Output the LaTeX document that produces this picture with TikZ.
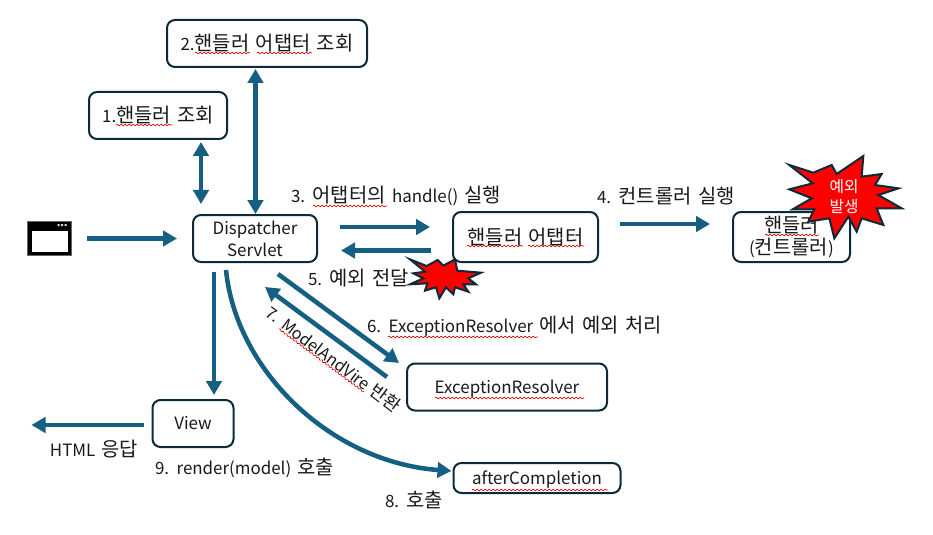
\documentclass[tikz,border=0pt]{standalone}
\usepackage{fontspec}
\setmainfont{Noto Sans CJK KR}
\usetikzlibrary{arrows.meta,calc,decorations.pathmorphing}
\definecolor{arrowblue}{HTML}{156082}
\definecolor{boxline}{HTML}{0B2A3A}
\newcommand{\hg}[1]{{\fontsize{14.9}{16.5}\selectfont #1}}
\newcommand{\lowered}[1]{\raisebox{-1.5pt}[9pt][3pt]{#1}}
\newcommand{\widesp}{\spaceskip 4.7pt\relax}
\tikzset{
  box/.style={draw=boxline,line width=1.5pt,rounded corners=6pt,fill=white,inner sep=0pt,outer sep=0pt,align=center,font={\fontsize{12.7}{16.5}\selectfont\widesp},text=black!90},
  conn/.style={draw=arrowblue,line width=3.4pt,-{Triangle[length=10.5pt,width=11.5pt]}},
  biconn/.style={draw=arrowblue,line width=3.4pt,{Triangle[length=10.5pt,width=11.5pt]}-{Triangle[length=10.5pt,width=11.5pt]}},
  lbl/.style={inner sep=0pt,outer sep=0pt,font={\fontsize{12.7}{16.5}\selectfont\widesp},text=black!90},
  squig/.style={draw=red!85!black,line width=0.5pt,decorate,decoration={snake,amplitude=0.6pt,segment length=3pt}},
  burst/.style={draw=boxline,line width=1.5pt,fill=red,miter limit=10,line join=miter}
}
\begin{document}
\begin{tikzpicture}[x=0.75pt,y=-0.75pt]
\useasboundingbox (0,0) rectangle (933,535);
\fill[white] (0,0) rectangle (933,535);

% browser icon
\node[draw=black!60,line width=0.6pt,fill=black,minimum width=32.5pt,minimum height=25pt,inner sep=0pt,outer sep=0pt] (browser) at (49.5,238.5) {};
\fill[white] (31.5,230.5) rectangle (67.5,252);
\fill[white!85!black] (57.5,224.2) rectangle (59.5,226.2) (61,224.2) rectangle (63,226.2) (64.5,224.2) rectangle (66.5,226.2);

% boxes
\node[box,minimum width=150pt,minimum height=35.25pt] (q2) at (267,43.5) {2.\hg{핸들러 어탭터 조회}};
\node[box,minimum width=103.5pt,minimum height=35.25pt] (q1) at (158,115.5) {1.\hg{핸들러 조회}};
\node[box,minimum width=93pt,minimum height=35.25pt] (disp) at (255,238.5) {Dispatcher\\Servlet};
\node[box,minimum width=108.75pt,minimum height=37.5pt] (adapter) at (525.5,237) {\hg{핸들러 어탭터}};
\node[box,minimum width=87.75pt,minimum height=37.5pt] (handler) at (791.5,237) {\hg{핸들러}\\(\hg{컨트롤러})};
\node[box,minimum width=150pt,minimum height=35.25pt] (resolver) at (507,387) {\lowered{ExceptionResolver}};
\node[box,minimum width=60.75pt,minimum height=35.25pt] (view) at (193,423.5) {\lowered{View}};
\node[box,minimum width=125.25pt,minimum height=22.5pt] (after) at (537,478) {\lowered{afterCompletion}};

% connectors
\draw[conn] ($(browser.east)+(16,0)$) -- ($(disp.west)+(-16,0)$);
\draw[biconn] ($(q1.south)+(43,3)$) -- ($(disp.north)+(-54,-11)$);
\draw[biconn] ($(q2.south)+(-11.5,2)$) -- ($(disp.north)+(0.5,-1)$);
\draw[conn] ($(disp.east)+(23,-11.5)$) -- ($(adapter.west)+(-23,-10)$);
\draw[conn] ($(adapter.west)+(-22,13.5)$) -- ($(disp.east)+(24,12)$);
\draw[conn] ($(adapter.east)+(22,-13)$) -- ($(handler.west)+(-23,-13)$);
\draw[conn] ($(disp.south)+(23,12)$) -- ($(resolver.north)+(-108,-0.5)$);
\draw[conn] ($(resolver.west)+(-20,-10)$) -- ($(disp.south)+(10,25)$);
\draw[conn] ($(disp.south)+(-41,10)$) -- ($(view.north)+(21,-5)$);
\draw[conn] ($(disp.south)+(-29,8)$) .. controls (236,370) and (330,462) .. ($(after.west)+(-2,-7)$);
\draw[conn] ($(view.west)+(-9,1.5)$) -- ($(view.west)+(-121,1.5)$);

% bursts
\begin{scope}[shift={(400,250)},x=0.25pt,y=-0.25pt]
\draw[burst] (30,28)--(80,48)--(113,30)--(130,47)--(165,28)--(172,62)--(243,68)--(205,85)--(228,103)--(190,103)--(205,125)--(165,112)--(160,133)--(138,112)--(118,145)--(108,112)--(75,122)--(82,100)--(30,103)--(70,85)--(40,70)--(75,65)--cycle;
\end{scope}
\begin{scope}[shift={(780,150)},x=0.25pt,y=-0.25pt]
\draw[burst] (28,45)--(100,68)--(155,45)--(170,72)--(250,18)--(245,80)--(305,72)--(285,105)--(355,115)--(295,135)--(365,175)--(290,175)--(310,225)--(245,205)--(230,245)--(205,200)--(163,265)--(148,205)--(85,215)--(103,178)--(38,178)--(95,145)--(28,118)--(98,100)--cycle;
\end{scope}
\node[lbl,text=white,align=center,font={\fontsize{11.8}{15}\selectfont}] (burstlabel) at (844,197) {예외\\발생};

% labels
\node[lbl,anchor=west] (l3) at (291,196) {3. \hg{어탭터의} handle() \hg{실행}};
\node[lbl,anchor=west] (l4) at (597,196) {4. \hg{컨트롤러 실행}};
\node[lbl,anchor=west] (l5) at (308,278) {5. \hg{예외 전달}};
\node[lbl,anchor=west] (l6) at (367,326) {6. ExceptionResolver \hg{에서 예외 처리}};
\node[lbl,rotate=-37,font={\fontsize{12.2}{16.5}\selectfont\spaceskip 3.6pt\relax}] (l7) at (334,359) {7. ModelAndVire {\fontsize{13.5}{16.5}\selectfont 반환}};
\node[lbl,anchor=west] (lh) at (50,449) {HTML \hg{응답}};
\node[lbl,anchor=west] (l9) at (155,468) {9. render(model) \hg{호출}};
\node[lbl,anchor=west] (l8) at (385,500) {8. \hg{호출}};

% spell-check underlines
\draw[squig] (195,53)--(250,53);
\draw[squig] (257,53)--(312,53);
\draw[squig] (116,125)--(172,125);
\draw[squig] (313,206)--(387,206);
\draw[squig] (467,246)--(523,246);
\draw[squig] (528,246)--(584,246);
\draw[squig] (765,235)--(819,235);
\draw[squig] (388,337)--(538,337);
\draw[squig] (435,398)--(584,398);
\draw[squig] (472,490)--(608,490);
\draw[squig] (279,329)--(364,392);
\end{tikzpicture}
\end{document}
